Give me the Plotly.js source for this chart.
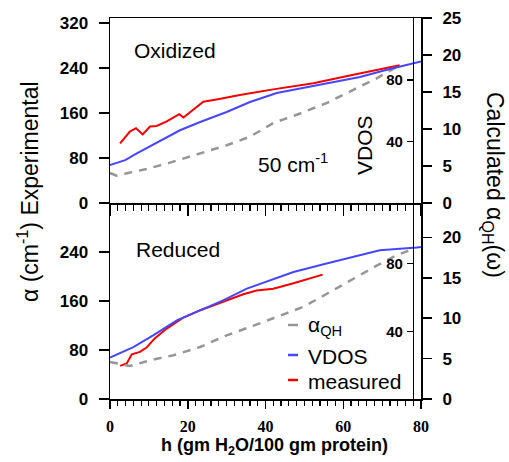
<!DOCTYPE html>
<html>
<head>
<meta charset="utf-8">
<script src="https://cdn.plot.ly/plotly-3.0.1.min.js"></script>
<style>html,body{margin:0;padding:0;background:#fff}#chart{width:509px;height:462px}</style>
</head>
<body>
<div id="chart"></div>
<script>
// ---- Oxidized (top panel) ----
const oxMeasH = [2.6, 5.1, 6.7, 8.4, 10.3, 12.0, 14.6, 17.8, 18.9, 21.0, 24.0, 27.4, 33.4, 42.0, 52.3, 62.6, 72.9, 74.5];
const oxMeasA = [106, 127, 133, 122, 136, 137, 145, 158, 152, 164, 180, 184, 192, 202, 213, 228, 242, 245];
const oxVdosH = [0, 3.9, 6.9, 14.6, 18, 23.2, 30, 36, 42.9, 48.9, 55.7, 64.3, 71.2, 78.9, 80];
const oxVdosV = [24.6, 27.9, 32.2, 43.0, 47.3, 52.7, 59.2, 65.7, 71.5, 74.4, 77.6, 81.9, 86.7, 91.6, 92.1];
const oxQhH = [0, 1.7, 4.6, 9.4, 15.4, 23.2, 30.0, 36.0, 42.0, 48.9, 55.7, 62.6, 68.6, 73.7, 74.9];
const oxQhV = [4.05, 3.69, 4.05, 4.6, 5.45, 6.7, 7.8, 8.96, 10.8, 12.1, 13.5, 15.3, 16.85, 18.4, 18.65];

// ---- Reduced (bottom panel) ----
const reMeasH = [2.6, 4.3, 5.6, 7.7, 9.4, 11.5, 14.6, 18.9, 23.2, 29.2, 34.3, 37.7, 42.0, 47.2, 52.3, 54.7];
const reMeasA = [54, 58, 73, 77, 84, 99, 115, 133, 145, 159, 171, 177, 180, 189, 198, 203];
const reVdosH = [0, 6, 11.1, 17.2, 23.2, 29.1, 35.2, 41.2, 47.2, 55.7, 62.6, 69.4, 78.9, 80];
const reVdosV = [24.5, 30.7, 37.6, 46.5, 52.4, 58.3, 65.2, 70.1, 75.0, 80.0, 83.9, 87.9, 89.5, 89.8];
const reQhH = [0, 5.1, 10.3, 16.3, 23.2, 30.0, 36.0, 42.9, 49.7, 55.7, 62.6, 68.6, 73.7, 77.6];
const reQhV = [4.58, 4.08, 4.79, 5.41, 6.44, 7.88, 8.91, 10.15, 11.4, 13.0, 14.9, 16.5, 17.8, 18.5];

// tick labels
const leftTicksTop = [0, 80, 160, 240, 320];
const leftTicksBot = [0, 80, 160, 240];
const rightTicksTop = [0, 5, 10, 15, 20, 25];
const rightTicksBot = [0, 5, 10, 15, 20];
const vdosTicks = [40, 80];
const xTicks = [0, 20, 40, 60, 80];

const RED = 'rgb(245,0,0)', BLUE = 'rgb(70,70,255)', GRAY = 'rgb(150,150,150)';
const qhLine = {color: GRAY, width: 2.5, dash: '8px,7px'};

const traces = [
  {x: oxQhH, y: oxQhV, xaxis: 'x2', yaxis: 'y5', mode: 'lines', line: qhLine, showlegend: false},
  {x: oxVdosH, y: oxVdosV, xaxis: 'x2', yaxis: 'y6', mode: 'lines', line: {color: BLUE, width: 2}, showlegend: false},
  {x: oxMeasH, y: oxMeasA, xaxis: 'x2', yaxis: 'y4', mode: 'lines', line: {color: RED, width: 2}, showlegend: false},
  {x: reQhH, y: reQhV, xaxis: 'x', yaxis: 'y2', mode: 'lines', line: qhLine, showlegend: false},
  {x: reVdosH, y: reVdosV, xaxis: 'x', yaxis: 'y3', mode: 'lines', line: {color: BLUE, width: 2}, showlegend: false},
  {x: reMeasH, y: reMeasA, xaxis: 'x', yaxis: 'y', mode: 'lines', line: {color: RED, width: 2}, showlegend: false}
];

const tfBig = {family: 'Liberation Sans, Arial, sans-serif', size: 17, color: '#000', weight: 700};
const tfV = {family: 'Liberation Sans, Arial, sans-serif', size: 15, color: '#000', weight: 700};
const tfX = {family: 'Liberation Serif, Times New Roman, serif', size: 16, color: '#000', weight: 700};
const split = 196 / 381;
const bold = arr => arr.map(v => '<b>' + v + '</b>');

const baseY = {showgrid: false, zeroline: false, showline: true, linecolor: '#000', linewidth: 1.5,
  ticks: 'outside', tickcolor: '#000', tickwidth: 1.5, tickmode: 'array', fixedrange: true};

const layout = {
  width: 509, height: 462,
  margin: {l: 110, r: 88, t: 18, b: 63},
  paper_bgcolor: '#fff', plot_bgcolor: 'rgba(0,0,0,0)',
  showlegend: false,
  xaxis: {domain: [0, 1], anchor: 'y', range: [0, 80], showgrid: false, zeroline: false, showline: true,
    linecolor: '#000', linewidth: 1.5, ticks: 'outside', ticklen: 8, tickwidth: 1.5, tickcolor: '#000',
    tickmode: 'array', tickvals: xTicks, ticktext: bold(xTicks), tickfont: tfX, ticklabelstandoff: 4,
    minor: {dtick: 2, ticks: 'outside', ticklen: 5, tickwidth: 1.2, tickcolor: '#000', showgrid: false}},
  xaxis2: {domain: [0, 1], anchor: 'y4', range: [0, 80], matches: 'x', showgrid: false, zeroline: false,
    showline: true, mirror: true, linecolor: '#000', linewidth: 1.5, ticks: 'outside', ticklen: 11,
    tickwidth: 1.5, tickcolor: '#000', tickmode: 'array', tickvals: xTicks, showticklabels: false,
    minor: {dtick: 2, ticks: 'outside', ticklen: 6, tickwidth: 1.2, tickcolor: '#000', showgrid: false}},
  yaxis: Object.assign({}, baseY, {domain: [0, split], anchor: 'x', range: [0, 320], tickvals: leftTicksBot,
    ticktext: bold(leftTicksBot), ticklen: 10, tickfont: tfBig, ticklabelstandoff: 7}),
  yaxis2: Object.assign({}, baseY, {overlaying: 'y', anchor: 'x', side: 'right', range: [0, 24.26],
    tickvals: rightTicksBot, ticktext: bold(rightTicksBot), ticklen: 9, linewidth: 2, tickfont: tfBig, ticklabelstandoff: 7}),
  yaxis3: Object.assign({}, baseY, {overlaying: 'y', anchor: 'free', position: 0.974, side: 'left', range: [0, 115.8],
    tickvals: vdosTicks, ticktext: bold(vdosTicks), ticklen: 6, tickfont: tfV, ticklabelstandoff: 1}),
  yaxis4: Object.assign({}, baseY, {domain: [split, 1], anchor: 'x2', range: [0, 328.9], tickvals: leftTicksTop,
    ticktext: bold(leftTicksTop), ticklen: 10, tickfont: tfBig, ticklabelstandoff: 7}),
  yaxis5: Object.assign({}, baseY, {overlaying: 'y4', anchor: 'x2', side: 'right', range: [0, 25],
    tickvals: rightTicksTop, ticktext: bold(rightTicksTop), ticklen: 9, linewidth: 2, tickfont: tfBig, ticklabelstandoff: 7}),
  yaxis6: Object.assign({}, baseY, {overlaying: 'y4', anchor: 'free', position: 0.974, side: 'left', range: [0, 120.3],
    tickvals: vdosTicks, ticktext: bold(vdosTicks), ticklen: 6, tickfont: tfV, ticklabelstandoff: 1}),
  annotations: [],
  shapes: []
};

const px = v => (v - 110) / 311;
const py = v => (399 - v) / 381;
const fTitle = {family: 'Liberation Sans, Arial, sans-serif', size: 23, color: '#000'};
const fAnn = {family: 'Liberation Sans, Arial, sans-serif', size: 21, color: '#000'};
function ann(text, x, y, font, opts) {
  layout.annotations.push(Object.assign({text: text, x: px(x), y: py(y), xref: 'paper', yref: 'paper',
    showarrow: false, font: font, xanchor: 'center', yanchor: 'middle'}, opts || {}));
}
ann('α (cm<sup>-1</sup>) Experimental', 28, 192, fTitle, {textangle: -90});
ann('Calculated α<sub>QH</sub>(ω)', 494, 185, fTitle, {textangle: 90});
ann('<b>h (gm H<sub>2</sub>O/100 gm protein)</b>', 274, 446, {family: 'Liberation Sans, Arial, sans-serif', size: 18, color: '#000'});
ann('Oxidized', 175, 51, fAnn);
ann('50 cm<sup>-1</sup>', 293, 163, fAnn);
ann('VDOS', 364, 145, fAnn, {textangle: -90});
ann('Reduced', 178, 249, fAnn);

// legend
const legItems = [['α<sub>QH</sub>', GRAY, 325], ['VDOS', BLUE, 355], ['measured', RED, 380]];
legItems.forEach(it => {
  layout.shapes.push({type: 'line', xref: 'paper', yref: 'paper', x0: px(288), x1: px(298), y0: py(it[2]), y1: py(it[2]),
    line: {color: it[1], width: 2.5}});
  ann(it[0], 306, it[2] + 1, fAnn, {xanchor: 'left'});
});

Plotly.newPlot('chart', traces, layout, {staticPlot: true, displayModeBar: false});
</script>
</body>
</html>
